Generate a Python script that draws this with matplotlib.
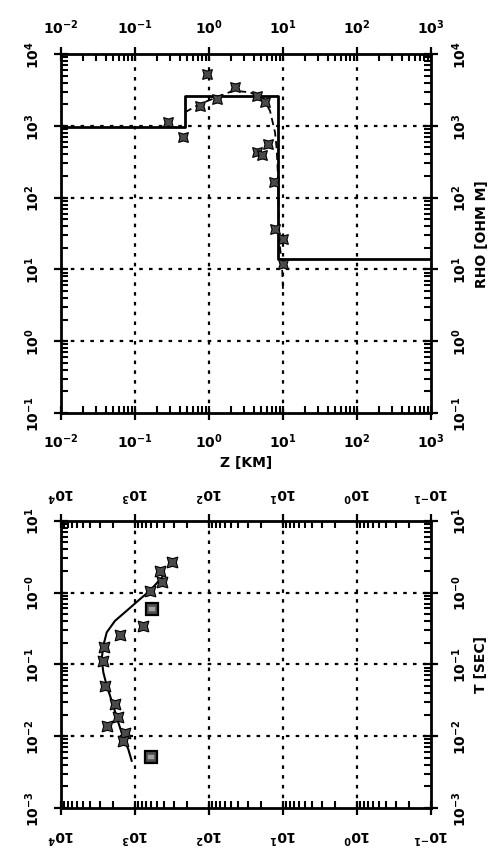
import matplotlib.pyplot as plt
from matplotlib.ticker import FixedLocator, FixedFormatter, NullFormatter

# --- top panel: resistivity vs depth ---
model_z = [0.01, 0.48, 8.65, 1000.0]      # layer boundaries [km]
model_rho = [950, 2560, 13.8]             # layer resistivities [ohm m]

curve_z = [0.474, 0.755, 1.27, 2.13, 3.58, 5.42, 6.67, 7.80, 8.22, 8.64, 8.83, 9.68, 10.0]
curve_rho = [1542, 2014, 2495, 3083, 2930, 2360, 1622, 811, 475, 163, 26.5, 11.9, 5.3]

star_z = [0.282, 0.45, 0.755, 0.93, 1.28, 2.24, 4.42, 5.71, 4.42, 5.28, 6.33, 7.67, 7.80, 10.1, 10.1]
star_rho = [1120, 692, 1905, 5260, 2400, 3436, 2627, 2123, 438, 398, 558, 163, 36.6, 26.5, 11.9]

# --- bottom panel: apparent resistivity vs period ---
fit_rho = [415, 627, 855, 1294, 1862, 2410, 2680, 2818, 2680, 2410, 1963, 1683, 1439, 1233, 1109]
fit_t = [1.71, 1.06, 0.811, 0.558, 0.404, 0.279, 0.1816, 0.1186, 0.0775, 0.0504, 0.0265,
         0.01556, 0.0096, 0.0066, 0.00454]

obs_rho = [319, 459, 436, 627, 773, 1596, 2600, 2730, 2540, 1862, 1683, 2410, 1365, 1466]
obs_t = [2.64, 2.01, 1.39, 1.06, 0.345, 0.256, 0.177, 0.112, 0.0494, 0.028, 0.0183,
         0.01396, 0.01104, 0.00863]

box_rho = [594, 614]
box_t = [0.589, 0.0052]

top_x_ticks = [1e-2, 1e-1, 1e0, 1e1, 1e2, 1e3]
top_x_labels = ['$10^{-2}$', '$10^{-1}$', '$10^{0}$', '$10^{1}$', '$10^{2}$', '$10^{3}$']
top_y_ticks = [1e-1, 1e0, 1e1, 1e2, 1e3, 1e4]
top_y_labels = ['$10^{-1}$', '$10^{0}$', '$10^{1}$', '$10^{2}$', '$10^{3}$', '$10^{4}$']
bot_x_ticks = [1e4, 1e3, 1e2, 1e1, 1e0, 1e-1]
bot_x_labels = ['$10^{4}$', '$10^{3}$', '$10^{2}$', '$10^{1}$', '$10^{0}$', '$10^{-1}$']
bot_y_ticks = [1e-3, 1e-2, 1e-1, 1e0, 1e1]
bot_y_labels = ['$10^{-3}$', '$10^{-2}$', '$10^{-1}$', '$10^{-0}$', '$10^{1}$']

plt.rcParams['font.family'] = ['DejaVu Sans']
plt.rcParams['font.weight'] = 'bold'
plt.rcParams['mathtext.fontset'] = 'custom'
plt.rcParams['mathtext.rm'] = 'DejaVu Sans:bold'
plt.rcParams['mathtext.default'] = 'rm'

star = (4, 1, 45)
grid_style = dict(color='k', lw=1.6, ls=(0, (1.6, 2.8)))


def minor_ticks(ticks):
    # 2..9 inside each decade of the major ticks
    lo, hi = min(ticks), max(ticks)
    out = []
    d = lo
    while d < hi * 0.99:
        out += [m * d for m in range(2, 10)]
        d *= 10
    return out


def style_axes(ax, xt, xl, yt, yl):
    ax.set_xscale('log')
    ax.set_yscale('log')
    for s in ax.spines.values():
        s.set_linewidth(2)
    ax.xaxis.set_major_locator(FixedLocator(xt))
    ax.xaxis.set_major_formatter(FixedFormatter(xl))
    ax.yaxis.set_major_locator(FixedLocator(yt))
    ax.yaxis.set_major_formatter(FixedFormatter(yl))
    ax.xaxis.set_minor_locator(FixedLocator(minor_ticks(xt)))
    ax.yaxis.set_minor_locator(FixedLocator(minor_ticks(yt)))
    ax.xaxis.set_minor_formatter(NullFormatter())
    ax.yaxis.set_minor_formatter(NullFormatter())
    ax.tick_params(which='major', direction='inout', length=10, width=1.6,
                   top=True, right=True, labeltop=True, labelright=True, labelsize=10)
    ax.tick_params(which='minor', direction='in', length=5, width=1.5, color='k',
                   top=True, right=True)
    ax.tick_params(axis='y', which='major', labelrotation=90)
    for v in xt[1:-1]:
        ax.axvline(v, **grid_style, zorder=1)
    for v in yt[1:-1]:
        ax.axhline(v, **grid_style, zorder=1)


fig = plt.figure(figsize=(4.88, 8.54), dpi=100)

# top panel
ax1 = fig.add_axes([61 / 488, 1 - 414 / 854, 370 / 488, 359 / 854])
style_axes(ax1, top_x_ticks, top_x_labels, top_y_ticks, top_y_labels)
ax1.set_xlim(1e-2, 1e3)
ax1.set_ylim(1e-1, 1e4)
ax1.tick_params(axis='x', which='major', pad=8)
ax1.tick_params(axis='y', which='major', pad=9)
for lab in ax1.get_yticklabels():
    lab.set_verticalalignment('center')
ax1.step(model_z, model_rho + [model_rho[-1]], where='post', color='k', lw=2, zorder=3)
ax1.plot(curve_z, curve_rho, color='k', lw=1.3, ls=(0, (4, 2.5)), zorder=3)
ax1.plot(star_z, star_rho, ls='none', marker=star, ms=10, mfc='#4a4a4a', mec='k',
         mew=0.8, zorder=4)
ax1.set_xlabel('Z [KM]', fontsize=10, fontweight='bold')
ax1.xaxis.set_label_coords(0.5, -(463 - 414) / 359)
ax1.xaxis.label.set_verticalalignment('center')
fig.text(482 / 488, 1 - 234 / 854, 'RHO [OHM M]', rotation=90, ha='center', va='center',
         fontsize=10, fontweight='bold')

# bottom panel
ax2 = fig.add_axes([61 / 488, 1 - 809 / 854, 370 / 488, 287.3 / 854])
style_axes(ax2, bot_x_ticks, bot_x_labels, bot_y_ticks, bot_y_labels)
ax2.set_xlim(1e4, 1e-1)
ax2.set_ylim(1e-3, 1e1)
ax2.tick_params(axis='x', which='major', labelrotation=180, pad=8)
ax2.tick_params(axis='y', which='major', pad=9)
for lab in ax2.get_yticklabels():
    lab.set_verticalalignment('center')
ax2.plot(fit_rho, fit_t, color='k', lw=1.5, zorder=3)
ax2.plot(obs_rho, obs_t, ls='none', marker=star, ms=11, mfc='#4a4a4a', mec='k',
         mew=0.8, zorder=4)
ax2.plot(box_rho, box_t, ls='none', marker='s', ms=9, mfc='#505050', mec='k',
         mew=1.6, zorder=4)
ax2.plot(box_rho, box_t, ls='none', marker='$\\equiv$', ms=4, mfc='#a0a0a0', mec='#a0a0a0',
         mew=0.3, zorder=5)
fig.text(481 / 488, 1 - 665 / 854, 'T [SEC]', rotation=90, ha='center', va='center',
         fontsize=10, fontweight='bold')

fig.savefig('out.png', dpi=100)
